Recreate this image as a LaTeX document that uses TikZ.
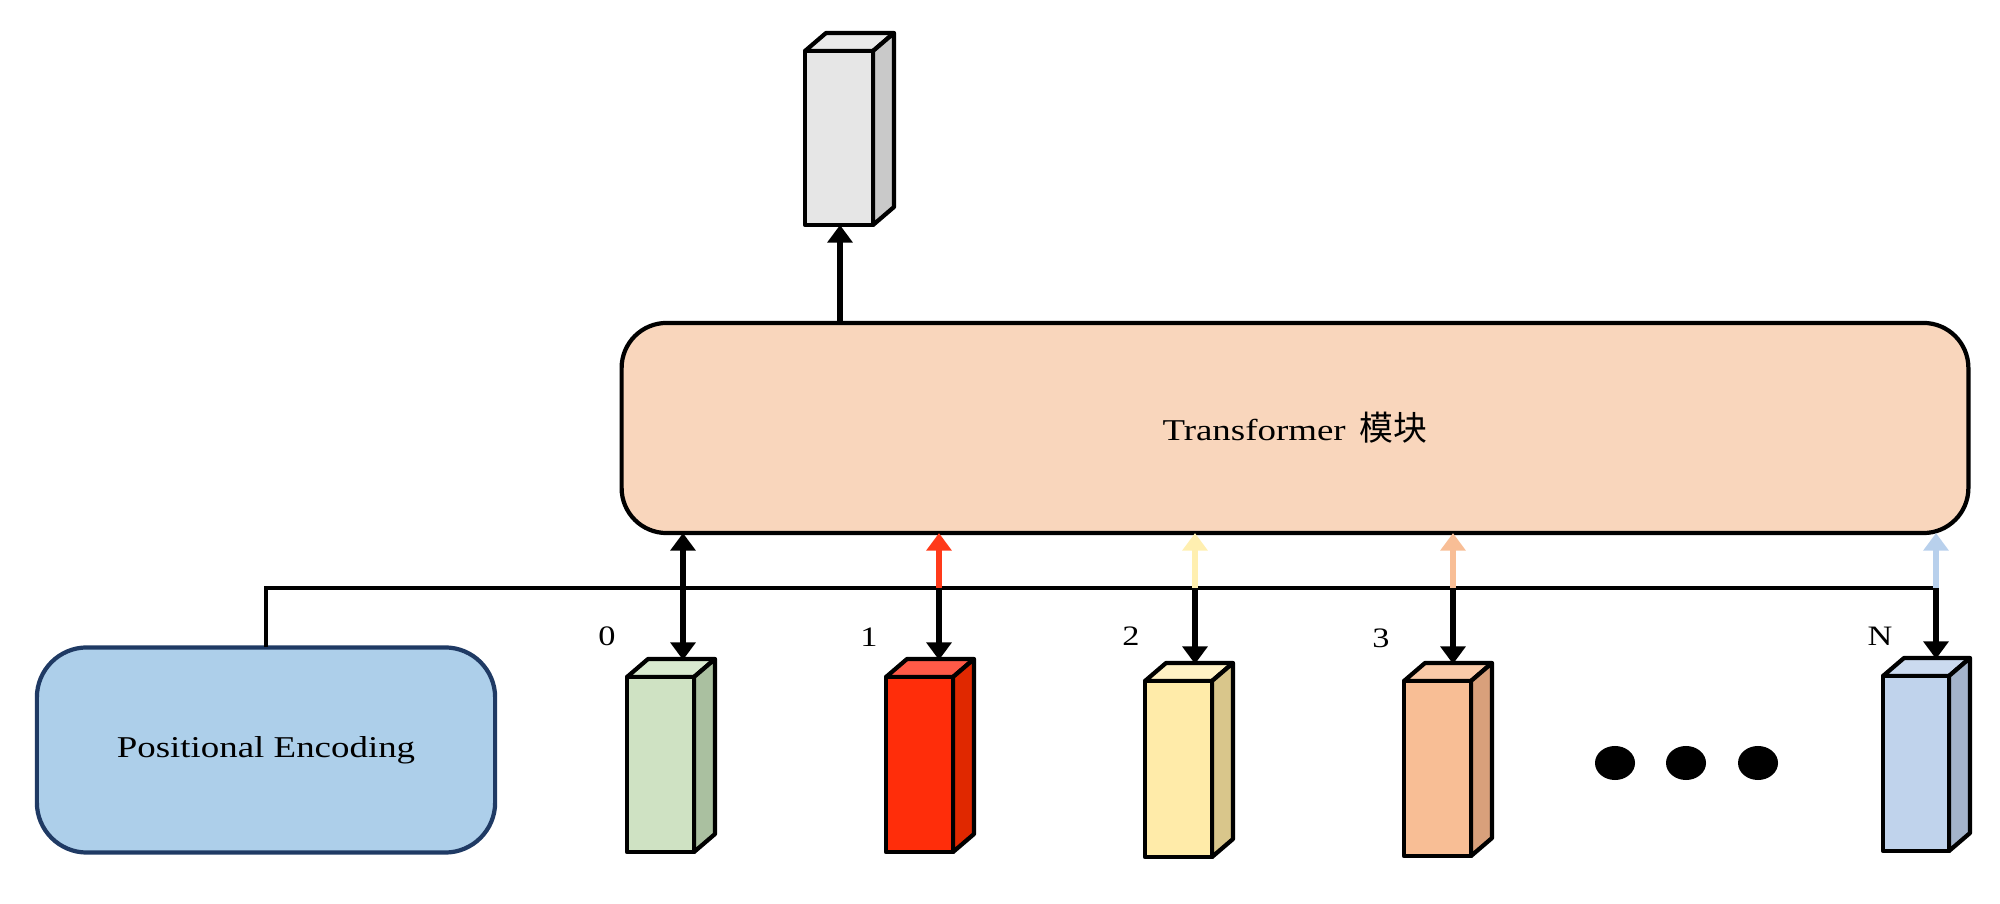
\documentclass[tikz,border=0pt]{standalone}
\usepackage{fontspec}
\setmainfont[FakeStretch=1.22]{Liberation Serif}
\newfontfamily\cjk[Scale=1.12]{Noto Sans CJK SC}
\usetikzlibrary{arrows.meta}
\definecolor{tfill}{HTML}{F9D6BC}
\definecolor{pefill}{HTML}{ADCFEA}
\definecolor{peline}{HTML}{1F3A64}
\definecolor{gF}{HTML}{CFE2C3}\definecolor{gS}{HTML}{AAC0A0}\definecolor{gT}{HTML}{D9EAD0}
\definecolor{rF}{HTML}{FF2D0A}\definecolor{rS}{HTML}{E02800}\definecolor{rT}{HTML}{FF5A47}
\definecolor{yF}{HTML}{FFEBA9}\definecolor{yS}{HTML}{D9C68B}\definecolor{yT}{HTML}{FFF1C4}
\definecolor{oF}{HTML}{F8BE95}\definecolor{oS}{HTML}{D9A07B}\definecolor{oT}{HTML}{FACAA8}
\definecolor{bF}{HTML}{C0D3EC}\definecolor{bS}{HTML}{A3B3CA}\definecolor{bT}{HTML}{CBDAEF}
\definecolor{kF}{HTML}{E6E6E6}\definecolor{kS}{HTML}{C9C9C9}\definecolor{kT}{HTML}{EAEAEA}
\definecolor{arrR}{HTML}{FF3A1A}
\definecolor{arrY}{HTML}{FFEFB0}
\definecolor{arrO}{HTML}{F8BE96}
\definecolor{arrB}{HTML}{B8D0EC}
\newcommand\cuboid[8]{%
  \filldraw[cube, fill=#8] (#2,#3) -- ++(21,-18) -- ++(#4-#2,0) -- ++(-21,18) -- cycle;
  \filldraw[cube, fill=#7] (#4,#3) -- ++(21,-18) -- ++(0,#5-#3) -- ++(-21,18) -- cycle;
  \filldraw[cube, fill=#6] (#2,#3) rectangle (#4,#5);
  \coordinate (#1) at (#2,#3);
}
\begin{document}
\begin{tikzpicture}[x=0.01cm,y=-0.01cm,
  cube/.style={draw=black, line width=1.2pt, line join=round},
  bus/.style={line width=1.15pt},
  arr/.style={line width=1.5pt, -{Triangle[length=5pt,width=7pt]}},
  dbl/.style={line width=1.5pt, {Triangle[length=5pt,width=7pt]}-{Triangle[length=5pt,width=7pt]}},
  lbl/.style={font=\fontsize{8}{9.6}\selectfont, inner sep=0pt},
  txt/.style={font=\fontsize{8.6}{10}\selectfont}]
\useasboundingbox (0,0) rectangle (2000,904);
% main blocks
\node[draw=black, line width=1.2pt, fill=tfill, rounded corners=0.45cm, minimum width=13.46cm, minimum height=2.10cm, outer sep=0pt, txt] (T) at (1295,428) {Transformer\hspace{4pt}{\cjk 模块}};
\node[draw=peline, line width=1.2pt, fill=pefill, rounded corners=0.5cm, minimum width=4.58cm, minimum height=2.05cm, outer sep=0pt, txt] (PE) at (266,750) {Positional Encoding};
% cuboids
\cuboid{k}{805}{51}{873}{225}{kF}{kS}{kT}
\cuboid{c0}{627}{677}{694}{852}{gF}{gS}{gT}
\cuboid{c1}{886}{677}{953}{852}{rF}{rS}{rT}
\cuboid{c2}{1145}{681}{1212}{857}{yF}{yS}{yT}
\cuboid{c3}{1404}{681}{1471}{856}{oF}{oS}{oT}
\cuboid{cN}{1883}{676}{1949}{851}{bF}{bS}{bT}
% labels
\node[lbl] (l0) at (607,636) {0};
\node[lbl] (l1) at (869,637) {1};
\node[lbl] (l2) at (1131,636) {2};
\node[lbl] (l3) at (1381,638) {3};
\node[lbl] (lN) at (1880,636) {N};
% dots
\fill (1615,763) ellipse [x radius=0.2cm, y radius=0.17cm];
\fill (1686,763) ellipse [x radius=0.2cm, y radius=0.17cm];
\fill (1758,763) ellipse [x radius=0.2cm, y radius=0.17cm];
% coordinates
\coordinate (g) at (840,225);
\coordinate (a0) at (683,660);
\coordinate (a1) at (939,660);
\coordinate (a2) at (1195,664);
\coordinate (a3) at (1453,664);
\coordinate (aN) at (1936,659);
\coordinate (bN) at (1936,588);
% bus
\draw[bus] (PE.north) -- (PE.north |- bN) -- (bN);
% arrows
\draw[arr] (T.north -| g) -- (g);
\draw[dbl] (T.south -| a0) -- (a0);
\draw[arr, arrR] (a1 |- bN) -- (T.south -| a1);
\draw[arr] (a1 |- bN) -- (a1);
\draw[arr, arrY] (a2 |- bN) -- (T.south -| a2);
\draw[arr] (a2 |- bN) -- (a2);
\draw[arr, arrO] (a3 |- bN) -- (T.south -| a3);
\draw[arr] (a3 |- bN) -- (a3);
\draw[arr, arrB] (bN) -- (T.south -| aN);
\draw[arr] (bN) -- (aN);
\end{tikzpicture}
\end{document}
